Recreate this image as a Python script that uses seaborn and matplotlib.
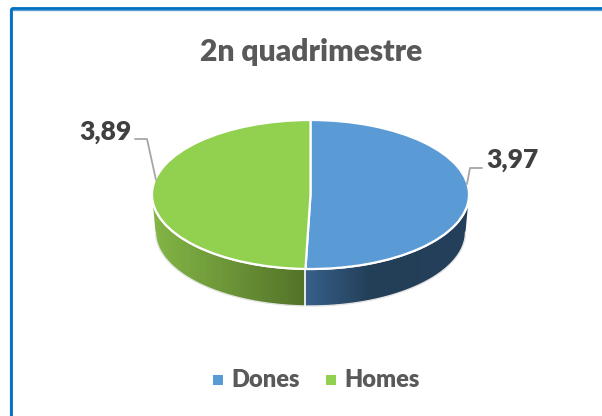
import numpy as np
import matplotlib
matplotlib.use("Agg")
import matplotlib.pyplot as plt
from matplotlib.colors import LinearSegmentedColormap
from matplotlib.patches import Polygon, Rectangle
from matplotlib.transforms import Affine2D
import seaborn as sns

title = "2n quadrimestre"
categories = ["Dones", "Homes"]
values = [3.97, 3.89]
labels = ["3,97", "3,89"]
colors = ["#5B9BD5", "#92D050"]

sns.set_theme(style="white")
plt.rcParams["font.family"] = ["Lato", "DejaVu Sans"]
TXT = "#595959"

fig = plt.figure(figsize=(6.02, 4.16), dpi=100)
ax = fig.add_axes([0, 0, 1, 1])

cx, cy, rx, ry = 310.5, 194.5, 158.5, 74.5
bcy, brx, bry = 232.0, 155.0, 74.0

wedges, _ = ax.pie(values, colors=colors, startangle=90, counterclock=False,
                   radius=1, center=(0, 0),
                   wedgeprops=dict(edgecolor="white", linewidth=1.6, zorder=5))
for w in wedges:
    # the axes run downward in pixels, so flip the pie to keep it clockwise
    w.set_transform(Affine2D().scale(rx, -ry).translate(cx, cy) + ax.transData)

ax.set_aspect("auto")
ax.set_xlim(0, 602)
ax.set_ylim(416, 0)
ax.set_axis_off()

# split of the slices, taken from the data
split = np.deg2rad(360 * values[0] / sum(values))
split_x = cx + rx * np.sin(split)

# side wall
t = np.linspace(0, np.pi, 200)
top_edge = np.c_[cx + rx * np.cos(t), cy + ry * np.sin(t)]
bot_edge = np.c_[cx + brx * np.cos(t[::-1]), bcy + bry * np.sin(t[::-1])]
wall = np.vstack([top_edge, bot_edge])

def side(cmap_cols, x0, x1):
    cmap = LinearSegmentedColormap.from_list("s", cmap_cols)
    im = ax.imshow(np.linspace(0, 1, 256)[None, :], cmap=cmap, aspect="auto",
                   extent=(x0, x1, 310, cy), zorder=2)
    im.set_clip_path(Polygon(wall, transform=ax.transData))

side(["#84B646", "#537329"], cx - rx, split_x)
side([(0, "#37608A"), (0.4, "#233F58"), (1, "#24405A")], split_x, cx + rx)
ax.set_xlim(0, 602)
ax.set_ylim(416, 0)

ax.plot(bot_edge[:, 0], bot_edge[:, 1], color="#E4E4E4", lw=1.0, zorder=3)
ax.plot(top_edge[:, 0], top_edge[:, 1], color="white", lw=1.6, zorder=4)
ax.plot([split_x, split_x], [cy + ry, bcy + bry], color="white", lw=1.2, zorder=4)

# frame
ax.add_patch(Rectangle((9.6, 9.6), 700, 700, fill=False, edgecolor="#5B9BD5", lw=0.9, zorder=1))
ax.add_patch(Rectangle((11, 8), 700, 700, fill=False, edgecolor="#0070C0", lw=2.0, zorder=1))

ax.text(311, 52, title, ha="center", va="center", fontsize=21.6, fontweight="heavy", color=TXT)

# data labels and leader lines
ax.plot([467, 470, 482], [184, 168, 168], color="#A6A6A6", lw=1.3, zorder=6)
ax.text(486, 160, labels[0], ha="left", va="center", fontsize=19, fontweight="heavy", color="#404040")
ax.plot([135, 147, 156], [139, 139, 180], color="#A6A6A6", lw=1.3, zorder=6)
ax.text(132, 132, labels[1], ha="right", va="center", fontsize=19, fontweight="heavy", color="#404040")

# legend
for x, lbl, c in zip([213, 326], categories, colors):
    ax.add_patch(Rectangle((x, 375), 10, 10, facecolor=c, edgecolor="none"))
    ax.text(x + 18.5, 380, lbl, ha="left", va="center", fontsize=17, fontweight="heavy", color=TXT)

fig.savefig("out.png", dpi=100)
